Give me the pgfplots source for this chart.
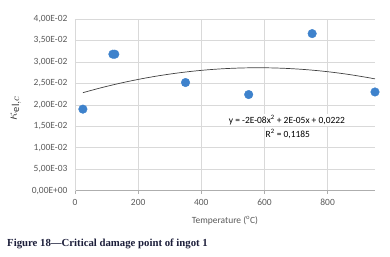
\documentclass[border=0pt]{standalone}
\usepackage{pgfplots}
\pgfplotsset{compat=1.18}
\usepackage{fontspec}
\setmainfont{Carlito}
\newfontfamily\capfont{Liberation Serif}
\definecolor{ptblue}{RGB}{62,130,204}
\definecolor{txtgray}{RGB}{89,89,89}
\definecolor{gridgray}{RGB}{217,217,217}
\definecolor{capcol}{RGB}{28,30,58}
\begin{document}
\begin{tikzpicture}
\useasboundingbox (-75bp,-66.3bp) rectangle (315bp,190.7bp);
\begin{axis}[
  at={(0,0)}, anchor=south west,
  scale only axis, width=300bp, height=171.7bp,
  xmin=0, xmax=950, ymin=0, ymax=0.04,
  scaled y ticks=false, scaled x ticks=false,
  axis x line*=bottom, axis y line*=left,
  x axis line style={color=gridgray!80!black, line width=0.6bp, -},
  y axis line style={color=gridgray, line width=0.6bp, -},
  xtick={0,200,400,600,800},
  xticklabels={0,200,400,600,800},
  ytick={0,0.005,0.01,0.015,0.02,0.025,0.03,0.035,0.04},
  yticklabels={{0,00E+00},{5,00E-03},{1,00E-02},{1,50E-02},{2,00E-02},{2,50E-02},{3,00E-02},{3,50E-02},{4,00E-02}},
  /pgf/number format/assume math mode=true,
  ticklabel style={font=\fontsize{9.5}{10}\selectfont, text=txtgray},
  x tick label style={yshift=-2bp},
  y tick label style={xshift=-4bp},
  xtick style={draw=gridgray!80!black, line width=0.6bp},
  major tick length=3bp,
  xtick align=outside,
  ytick style={draw=none},
  grid=major,
  major grid style={draw=gridgray, line width=0.6bp},
  xlabel={Temperature (\textsuperscript{o}C)},
  xlabel style={font=\fontsize{9.5}{10}\selectfont, text=txtgray, at={(axis description cs:0.5,-0.176)}, anchor=center},
  ylabel={$\kappa_{\mathrm{el},c}$},
  ylabel style={font=\fontsize{15}{15}\selectfont, text=txtgray!60!black, at={(axis description cs:-0.197,0.48)}, anchor=center, rotate=0},
  clip=false,
]
\addplot[only marks, mark=*, mark size=4.3bp, mark options={fill=ptblue, draw=ptblue}] coordinates {
  (25,0.0190) (120,0.0318) (126,0.0318) (350,0.0252) (550,0.0224) (751,0.0366) (950,0.0230)
};
\addplot[no marks, draw=black!75, line width=0.7bp, smooth] coordinates {
  (25,0.022836) (75,0.023836) (125,0.024742) (175,0.025554) (225,0.026271)
  (275,0.026893) (325,0.027421) (375,0.027855) (425,0.028194) (475,0.028438)
  (525,0.028588) (575,0.028644) (625,0.028605) (675,0.028471) (725,0.028243)
  (775,0.027921) (825,0.027504) (875,0.026992) (925,0.026386) (950,0.026048)
};
\node[font=\fontsize{9.5}{10}\selectfont, text=black, fill=white, inner sep=1bp] at (axis cs:671,0.01647) {y = -2E-08x\textsuperscript{2} + 2E-05x + 0,0222};
\node[font=\fontsize{9.5}{10}\selectfont, text=black, inner sep=1bp] at (axis cs:674,0.01321) {R\textsuperscript{2} = 0,1185};
\end{axis}
\node[anchor=west, font=\capfont\bfseries\fontsize{10.8}{11}\selectfont, text=capcol, inner sep=0pt] at (-68bp,-53.3bp) {Figure 18—Critical damage point of ingot 1};
\end{tikzpicture}
\end{document}
